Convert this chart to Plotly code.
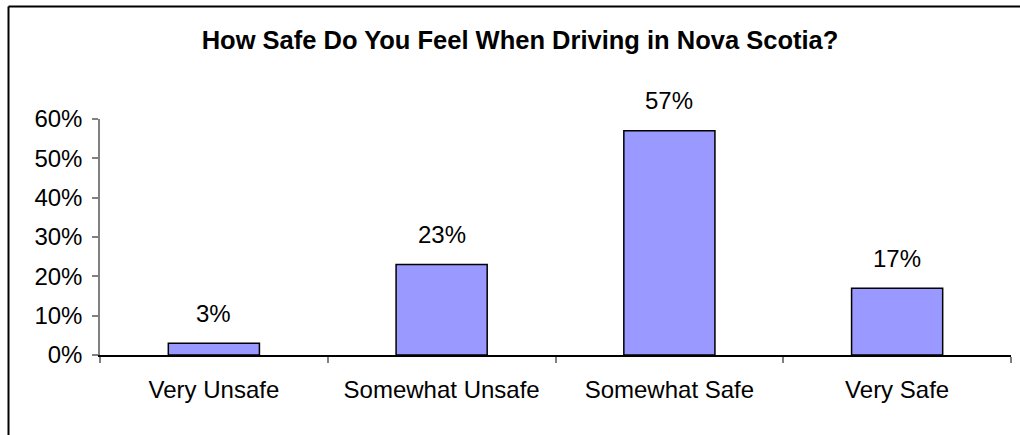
import plotly.graph_objects as go

# Survey responses: perceived safety when driving
categories = ["Very Unsafe", "Somewhat Unsafe", "Somewhat Safe", "Very Safe"]
shares = [0.03, 0.23, 0.57, 0.17]
y_ticks = [0, 0.1, 0.2, 0.3, 0.4, 0.5, 0.6]
y_tick_text = ["0%", "10%", "20%", "30%", "40%", "50%", "60%"]

W, H = 1020, 435
ML, MR, MT, MB = 100, 9, 119, 80
plot_w = W - ML - MR
plot_h = H - MT - MB

FONT = "Liberation Sans, Arial, sans-serif"
LABEL_SIZE = 24

fig = go.Figure(
    go.Bar(
        x=categories,
        y=shares,
        width=0.4,
        marker=dict(color="#9999FF", line=dict(color="#000000", width=1.5)),
        hoverinfo="skip",
    )
)

# value labels above each bar
for cat, val in zip(categories, shares):
    fig.add_annotation(
        x=cat, y=val, text=f"{round(val * 100)}%", showarrow=False,
        yanchor="middle", yshift=30,
        font=dict(family=FONT, size=LABEL_SIZE, color="#000000"),
    )


def px_x(px):
    return (px - ML) / plot_w


def px_y(py):
    return (H - MB - py) / plot_h


# outer chart frame (left and top edges are visible)
frame = dict(color="#000000", width=2)
fig.add_shape(type="line", xref="paper", yref="paper",
              x0=px_x(8.5), x1=px_x(8.5), y0=px_y(6.5), y1=px_y(450), line=frame)
fig.add_shape(type="line", xref="paper", yref="paper",
              x0=px_x(8.5), x1=px_x(1040), y0=px_y(6.5), y1=px_y(6.5), line=frame)

fig.update_layout(
    width=W, height=H,
    margin=dict(l=ML, r=MR, t=MT, b=MB, autoexpand=False),
    paper_bgcolor="#FFFFFF", plot_bgcolor="#FFFFFF",
    showlegend=False,
    title=dict(
        text="<b>How Safe Do You Feel When Driving in Nova Scotia?</b>",
        xref="container", yref="container",
        x=520 / W, xanchor="center",
        y=1 - 40 / H, yanchor="middle",
        font=dict(family=FONT, size=25.5, color="#000000"),
    ),
    font=dict(family=FONT, size=LABEL_SIZE, color="#000000"),
    bargap=0.6,
)

fig.update_xaxes(
    type="category",
    showline=True, linecolor="#000000", linewidth=1.5,
    ticks="outside", tickson="boundaries", ticklen=6, tickcolor="#808080", tickwidth=1.5,
    showgrid=False, zeroline=False,
    tickfont=dict(family=FONT, size=LABEL_SIZE, color="#000000"),
    ticklabelstandoff=12,
)

fig.update_yaxes(
    range=[0, 0.6],
    tickvals=y_ticks, ticktext=y_tick_text,
    showline=True, linecolor="#808080", linewidth=1.5,
    ticks="outside", ticklen=6, tickcolor="#808080", tickwidth=1.5,
    showgrid=False, zeroline=False,
    tickfont=dict(family=FONT, size=LABEL_SIZE, color="#000000"),
    ticklabelstandoff=5,
)

fig.write_html("out.html")
